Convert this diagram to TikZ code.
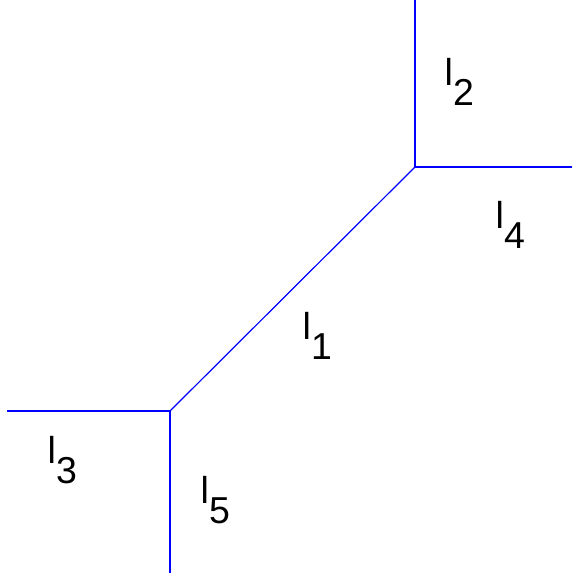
\documentclass[tikz,border=0pt]{standalone}
\usepackage{fontspec}
\setmainfont{Liberation Sans}
\usetikzlibrary{positioning}
\newcommand{\seglabel}[1]{l\lower20pt\hbox{#1}}

\begin{document}
\begin{tikzpicture}[
		x=1pt, y=-1pt,
		edge/.style={draw=blue, line width=1.2pt},
		seg label/.style={anchor=base west, inner sep=0pt, font=\fontsize{37.5}{40}\selectfont},
	]
	\useasboundingbox (0,0) rectangle (572,573);
	% Vertices
	\coordinate (upper) at (415,167);
	\coordinate (lower) at (170,411);
	% Free ends
	\coordinate (end 2) at (415,0);
	\coordinate (end 4) at (572,167);
	\coordinate (end 3) at (7,411);
	\coordinate (end 5) at (170,573);
	% Edges
	\draw[edge] (upper) -- (lower);
	\draw[edge] (upper) -- (end 2);
	\draw[edge] (upper) -- (end 4);
	\draw[edge] (lower) -- (end 3);
	\draw[edge] (lower) -- (end 5);
	% Labels
	\node[seg label] (l1) at (302.5,339) {\seglabel{1}};
	\node[seg label] (l2) at (444.5,85) {\seglabel{2}};
	\node[seg label] (l3) at (47.5,463) {\seglabel{3}};
	\node[seg label] (l4) at (495.5,228) {\seglabel{4}};
	\node[seg label] (l5) at (200.5,503) {\seglabel{5}};
\end{tikzpicture}
\end{document}
